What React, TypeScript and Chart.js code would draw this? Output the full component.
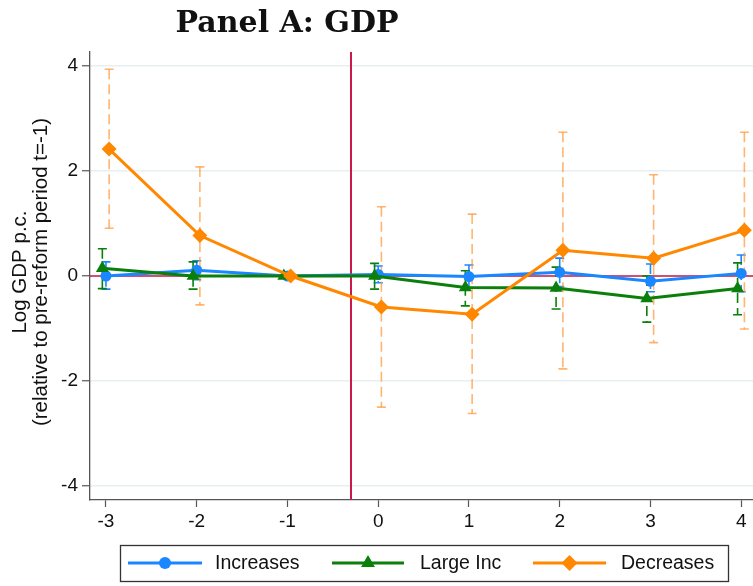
import React, { useEffect, useRef } from "react";
import { Chart, registerables } from "chart.js";

Chart.register(...registerables);

const titleText = "Panel A: GDP";
const yTitleLines = ["Log GDP p.c.", "(relative to pre-reform period t=-1)"];

const periods = [-3, -2, -1, 0, 1, 2, 3, 4];
const xTicks = [-3, -2, -1, 0, 1, 2, 3, 4];
const yTicks = [-4, -2, 0, 2, 4];

const increases = [0.0, 0.11, 0, 0.03, -0.01, 0.07, -0.1, 0.05];
const increasesLo = [-0.25, -0.07, 0, -0.13, -0.23, -0.2, -0.3, -0.3];
const increasesHi = [0.27, 0.29, 0, 0.19, 0.21, 0.34, 0.23, 0.4];

const largeInc = [0.15, 0.0, 0, 0.0, -0.22, -0.23, -0.43, -0.24];
const largeIncLo = [-0.24, -0.25, 0, -0.25, -0.57, -0.63, -0.88, -0.74];
const largeIncHi = [0.52, 0.27, 0, 0.24, 0.1, 0.17, 0.0, 0.25];

const decreases = [2.42, 0.77, 0, -0.59, -0.73, 0.49, 0.34, 0.87];
const decreasesLo = [0.91, -0.55, 0, -2.5, -2.62, -1.77, -1.27, -1.01];
const decreasesHi = [3.94, 2.08, 0, 1.32, 1.18, 2.74, 1.93, 2.74];

const reformLine = -0.3;

const BLUE = "#1a86ff";
const GREEN = "#0a7f0a";
const ORANGE = "#ff8800";
const RED = "#c8194a";
const AXIS = "#555555";
const SANS = "'Liberation Sans', Arial, sans-serif";

const series = [
  { label: "Increases", values: increases, lo: increasesLo, hi: increasesHi, color: BLUE, ciColor: BLUE, style: "circle", radius: 5.5, offset: 0, order: 3 },
  { label: "Large Inc", values: largeInc, lo: largeIncLo, hi: largeIncHi, color: GREEN, ciColor: GREEN, style: "triangle", radius: 7.5, offset: -0.04, order: 2 },
  { label: "Decreases", values: decreases, lo: decreasesLo, hi: decreasesHi, color: ORANGE, ciColor: "rgba(255,150,50,0.7)", style: "rectRot", radius: 7.5, offset: 0.035, order: 1 },
];

const legendLayout = [
  { x0: 128, x1: 202, tx: 215 },
  { x0: 332, x1: 404, tx: 420 },
  { x0: 533, x1: 606, tx: 621 },
];

function drawMarker(ctx: CanvasRenderingContext2D, style: string, x: number, y: number, r: number) {
  ctx.beginPath();
  if (style === "circle") {
    ctx.arc(x, y, r, 0, Math.PI * 2);
  } else if (style === "triangle") {
    for (let k = 0; k < 3; k++) {
      const a = (k * 2 * Math.PI) / 3;
      const px = x + Math.sin(a) * r;
      const py = y - Math.cos(a) * r;
      if (k === 0) ctx.moveTo(px, py);
      else ctx.lineTo(px, py);
    }
    ctx.closePath();
  } else {
    ctx.moveTo(x - r, y);
    ctx.lineTo(x, y - r);
    ctx.lineTo(x + r, y);
    ctx.lineTo(x, y + r);
    ctx.closePath();
  }
  ctx.fill();
}

const overlayPlugin = {
  id: "overlay",
  beforeDatasetsDraw(chart: any) {
    const { ctx, chartArea: a, scales } = chart;
    const x = scales.x;
    const y = scales.y;
    ctx.save();
    ctx.beginPath();
    ctx.rect(a.left, a.top, a.right - a.left, a.bottom - a.top);
    ctx.clip();
    const y0 = y.getPixelForValue(0);
    ctx.strokeStyle = RED;
    ctx.lineWidth = 1.5;
    ctx.beginPath();
    ctx.moveTo(a.left, y0);
    ctx.lineTo(a.right, y0);
    ctx.stroke();
    const xr = x.getPixelForValue(reformLine);
    ctx.lineWidth = 2;
    ctx.beginPath();
    ctx.moveTo(xr, a.top);
    ctx.lineTo(xr, a.bottom);
    ctx.stroke();
    series.forEach((s) => {
      ctx.strokeStyle = s.ciColor;
      ctx.lineWidth = 1.6;
      periods.forEach((p, i) => {
        if (s.lo[i] === s.hi[i]) return;
        const px = x.getPixelForValue(p + s.offset);
        const pt = y.getPixelForValue(s.hi[i]);
        const pb = y.getPixelForValue(s.lo[i]);
        ctx.setLineDash([10, 5]);
        ctx.beginPath();
        ctx.moveTo(px, pt);
        ctx.lineTo(px, pb);
        ctx.stroke();
        ctx.setLineDash([]);
        ctx.beginPath();
        ctx.moveTo(px - 4.5, pt);
        ctx.lineTo(px + 4.5, pt);
        ctx.moveTo(px - 4.5, pb);
        ctx.lineTo(px + 4.5, pb);
        ctx.stroke();
      });
    });
    ctx.restore();
  },
  afterDraw(chart: any) {
    const { ctx } = chart;
    ctx.save();
    ctx.fillStyle = "#111";
    ctx.font = "bold 30px 'DejaVu Serif', serif";
    ctx.textAlign = "center";
    ctx.textBaseline = "alphabetic";
    ctx.fillText(titleText, 287, 32);
    ctx.font = `20.5px ${SANS}`;
    ctx.fillStyle = "#111";
    const baselines = [26, 47];
    yTitleLines.forEach((t, i) => {
      ctx.save();
      ctx.translate(baselines[i], 272);
      ctx.rotate(-Math.PI / 2);
      ctx.fillText(t, 0, 0);
      ctx.restore();
    });
    ctx.strokeStyle = "#333";
    ctx.lineWidth = 1.3;
    ctx.strokeRect(120.5, 545.5, 608, 36);
    const ly = 563;
    ctx.font = `19.5px ${SANS}`;
    ctx.textAlign = "left";
    ctx.textBaseline = "middle";
    series.forEach((s, i) => {
      const L = legendLayout[i];
      ctx.strokeStyle = s.color;
      ctx.lineWidth = 3;
      ctx.beginPath();
      ctx.moveTo(L.x0, ly);
      ctx.lineTo(L.x1, ly);
      ctx.stroke();
      ctx.fillStyle = s.color;
      drawMarker(ctx, s.style, (L.x0 + L.x1) / 2, ly, s.style === "circle" ? 6 : 8);
      ctx.fillStyle = "#111";
      ctx.fillText(s.label, L.tx, ly + 1);
    });
    ctx.restore();
  },
};

export default function App() {
  const ref = useRef<HTMLCanvasElement | null>(null);
  useEffect(() => {
    if (!ref.current) return;
    const chart = new Chart(ref.current, {
      type: "line",
      data: {
        datasets: series.map((s) => ({
          label: s.label,
          data: periods.map((p, i) => ({ x: p + s.offset, y: s.values[i] })),
          borderColor: s.color,
          backgroundColor: s.color,
          borderWidth: 3,
          pointStyle: s.style as any,
          pointRadius: s.radius,
          pointBorderWidth: 0,
          pointBackgroundColor: s.color,
          pointBorderColor: s.color,
          tension: 0,
          order: s.order,
        })),
      },
      options: {
        animation: false,
        responsive: false,
        events: [],
        layout: { autoPadding: false, padding: { top: 52, left: 0, right: 0, bottom: 0 } },
        plugins: {
          legend: { display: false },
          title: { display: false },
          tooltip: { enabled: false },
        },
        scales: {
          x: {
            type: "linear",
            min: -3.176,
            max: 4.13,
            afterBuildTicks: (s: any) => {
              s.ticks = xTicks.map((v) => ({ value: v }));
            },
            afterFit: (s: any) => {
              s.height = 86;
              s.paddingLeft = 0;
              s.paddingRight = 0;
            },
            grid: { drawOnChartArea: false, drawTicks: true, tickLength: 7, tickColor: AXIS, tickWidth: 1.2 },
            border: { color: AXIS, width: 1.3 },
            ticks: {
              color: "#111",
              font: { family: SANS, size: 19 },
              padding: 3,
              autoSkip: false,
              maxRotation: 0,
              callback: (v: any) => String(v),
            },
          },
          y: {
            type: "linear",
            min: -4.27,
            max: 4.27,
            afterBuildTicks: (s: any) => {
              s.ticks = yTicks.map((v) => ({ value: v }));
            },
            afterFit: (s: any) => {
              s.width = 90;
              s.paddingTop = 0;
              s.paddingBottom = 0;
            },
            grid: { color: "#e9eff1", lineWidth: 1.5, drawTicks: true, tickLength: 8, tickColor: AXIS, tickWidth: 1.2 },
            border: { color: AXIS, width: 1.3 },
            ticks: {
              color: "#111",
              font: { family: SANS, size: 19 },
              padding: 4,
              callback: (v: any) => String(v),
            },
          },
        },
      },
      plugins: [overlayPlugin],
    });
    return () => chart.destroy();
  }, []);
  return (
    <div style={{ position: "fixed", left: 0, top: 0, width: 753, height: 586, background: "#fff", overflow: "hidden" }}>
      <canvas ref={ref} width={753} height={586} style={{ display: "block" }} />
    </div>
  );
}
